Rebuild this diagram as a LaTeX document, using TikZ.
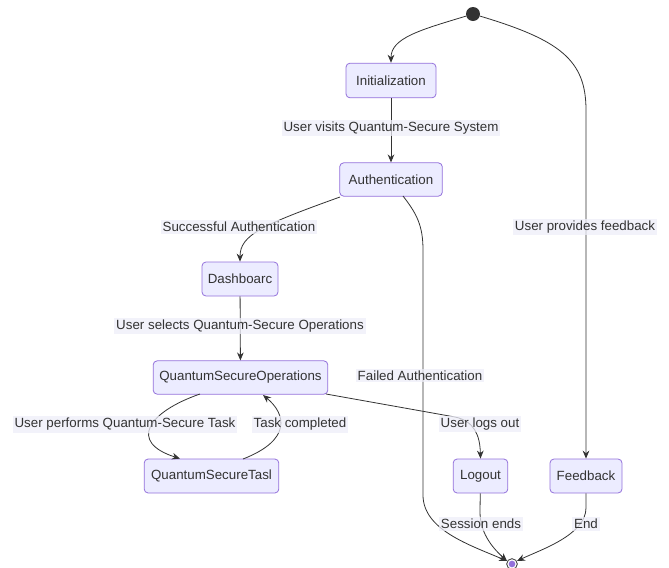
\documentclass[tikz,border=0pt]{standalone}
\usepackage{fontspec}
\setmainfont{Liberation Sans}
\usetikzlibrary{arrows.meta}
\definecolor{nodefill}{HTML}{ECECFF}
\definecolor{nodeline}{HTML}{9370DB}
\definecolor{ink}{HTML}{333333}
\definecolor{labelbg}{HTML}{EDEDF8}
\tikzset{
  statebox/.style={draw=nodeline, fill=nodefill, rounded corners=3pt, line width=0.6pt,
    text=ink, font=\fontsize{10}{12}\selectfont, inner sep=0pt},
  edgelabel/.style={fill=labelbg, fill opacity=0.75, text opacity=1, text=ink, font=\fontsize{10}{12}\selectfont, inner sep=1.5pt},
  trans/.style={draw=ink, line width=0.6pt, -{Stealth[length=6pt,width=5pt]}},
}
\begin{document}
\begin{tikzpicture}[x=0.75pt,y=-0.75pt]
\useasboundingbox (0,0) rectangle (669,568);
% states
\node[circle, fill=ink, minimum size=10.5pt, inner sep=0pt] (start) at (473,14) {};
\node[statebox, minimum width=67.5pt, minimum height=26pt] (init) at (391,80.5) {Initialization};
\node[statebox, minimum width=77pt, minimum height=25pt] (auth) at (391,179.5) {Authentication};
\node[statebox, minimum width=57pt, minimum height=25.5pt] (dash) at (240,279) {Dashboarc};
\node[statebox, minimum width=131pt, minimum height=25pt] (qso) at (240.5,377.5) {QuantumSecureOperations};
\node[statebox, minimum width=101pt, minimum height=25.5pt] (qst) at (211.5,476) {QuantumSecureTasl};
\node[statebox, minimum width=41pt, minimum height=25.5pt] (logout) at (480.5,476) {Logout};
\node[statebox, minimum width=54pt, minimum height=25.5pt] (feedback) at (586,476) {Feedback};
\node[circle, draw=ink, fill=white, line width=0.6pt, minimum size=8pt, inner sep=0pt] (endst) at (512,564) {};
\node[circle, fill=nodeline, minimum size=5pt, inner sep=0pt] at (endst) {};
% coordinates
\coordinate (a1) at (340,197);
\coordinate (a2) at (403,196);
\coordinate (q1) at (200,394);
\coordinate (q2) at (326,394);
\coordinate (t1) at (243,459);
\coordinate (q3) at (263,395);
\coordinate (e1) at (507,561);
\coordinate (e2) at (517,561);
% transitions
\draw[trans] (start) .. controls (420,30) and (391,38) .. (init.north);
\draw[trans] (start) .. controls (560,40) and (586,60) .. (586,110) -- (feedback.north);
\draw[trans] (init) -- (auth);
\draw[trans] (a1) .. controls (262,225) and (240,235) .. (dash.north);
\draw[trans] (a2) .. controls (417,214) and (423,226) .. (423,250) -- (423,495) .. controls (423,530) and (470,545) .. (e1);
\draw[trans] (dash) -- (qso);
\draw[trans] (q1) .. controls (148,412) and (128,442) .. (qst.north -| 180,0);
\draw[trans] (t1) .. controls (292,440) and (286,414) .. (q3);
\draw[trans] (q2) -- (455,417) .. controls (474,421) and (480,435) .. (logout.north);
\draw[trans] (logout) -- (480,512) .. controls (480,535) and (495,550) .. (e1);
\draw[trans] (feedback) -- (586,508) .. controls (586,535) and (540,550) .. (e2);
% labels
\node[edgelabel] (l1) at (391,128) {User visits Quantum-Secure System};
\node[edgelabel] (l2) at (239,227) {Successful Authentication};
\node[edgelabel] (l3) at (240,326) {User selects Quantum-Secure Operations};
\node[edgelabel] (l4) at (125,424.5) {User performs Quantum-Secure Task};
\node[edgelabel] (l5) at (300,424.5) {Task completed};
\node[edgelabel] (l6) at (420,375.5) {Failed Authentication};
\node[edgelabel] (l7) at (480,424) {User logs out};
\node[edgelabel] (l8) at (585,227) {User provides feedback};
\node[edgelabel] (l9) at (481,524) {Session ends};
\node[edgelabel] (l10) at (586,524) {End};
\end{tikzpicture}
\end{document}
